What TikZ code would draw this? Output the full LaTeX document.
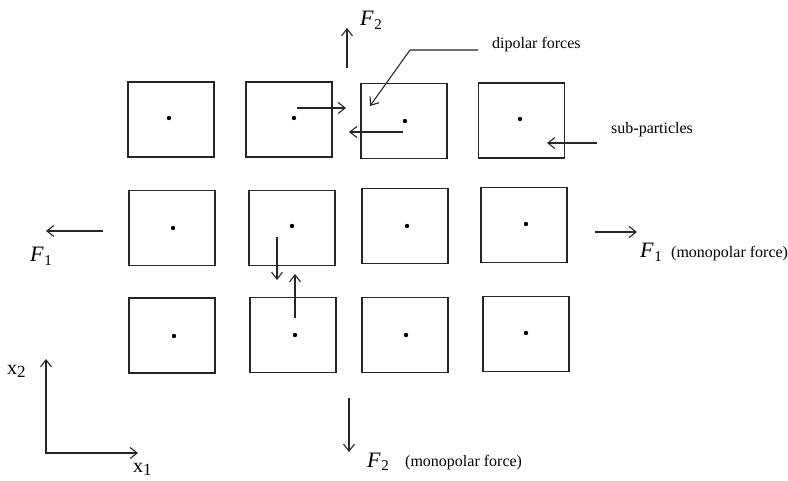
\documentclass[tikz,border=0pt]{standalone}
\usepackage{fontspec}
\setmainfont{Liberation Serif}
\usetikzlibrary{arrows.meta}
\newcommand{\Fsym}[1]{\textit{F}\kern0.5pt\raisebox{-0.3ex}{\fontsize{15}{15}\selectfont #1}}
\newcommand{\Xsym}[1]{x\raisebox{-0.4ex}{\fontsize{17}{17}\selectfont #1}}
\begin{document}
\begin{tikzpicture}[x=1pt,y=-1pt,
  ink/.style={draw=black!85},
  cell/.style={ink, line width=1.3pt, minimum width=86pt, minimum height=75pt, inner sep=0pt},
  dotmark/.style={circle, fill=black, inner sep=0pt, minimum size=4.4pt},
  force/.style={ink, line width=1.1pt, -{Straight Barb[length=7pt,width=11pt,line width=1.1pt]}},
  mlabel/.style={font=\fontsize{22}{24}\selectfont, inner sep=0pt, anchor=base west},
  tlabel/.style={font=\fontsize{16}{18}\selectfont, inner sep=0pt, anchor=base west},
  xlabel/.style={font=\fontsize{20}{22}\selectfont, inner sep=0pt, anchor=base west}]
\useasboundingbox (0,0) rectangle (788,481);
% sub-particle cells
\node[cell] (b11) at (171,119.5) {};
\node[cell] (b12) at (289,119.5) {};
\node[cell] (b13) at (404,121) {};
\node[cell] (b14) at (521.5,120.5) {};
\node[cell] (b21) at (172,228) {};
\node[cell] (b22) at (292,228) {};
\node[cell] (b23) at (405,226) {};
\node[cell] (b24) at (524,225) {};
\node[cell] (b31) at (172,335.5) {};
\node[cell] (b32) at (293,335) {};
\node[cell] (b33) at (405,335) {};
\node[cell] (b34) at (526,334) {};
% centre dots
\node[dotmark] (d11) at (169,118) {};
\node[dotmark] (d12) at (294,118) {};
\node[dotmark] (d13) at (405,121) {};
\node[dotmark] (d14) at (520,119) {};
\node[dotmark] (d21) at (173,228) {};
\node[dotmark] (d22) at (292,226) {};
\node[dotmark] (d23) at (407,226) {};
\node[dotmark] (d24) at (526,224) {};
\node[dotmark] (d31) at (174,336) {};
\node[dotmark] (d32) at (295,335) {};
\node[dotmark] (d33) at (406,335) {};
\node[dotmark] (d34) at (526,333) {};
% arrow end points
\coordinate (f2ta) at (347,68);   \coordinate (f2tb) at (347,28);
\coordinate (dla) at (478,50);    \coordinate (dlb) at (410,50);   \coordinate (dlc) at (370,106);
\coordinate (dra) at (297,108);   \coordinate (drb) at (346,108);
\coordinate (dpa) at (403,132);   \coordinate (dpb) at (349,132);
\coordinate (spa) at (597,143);   \coordinate (spb) at (547,143);
\coordinate (f1la) at (103,231);  \coordinate (f1lb) at (46,231);
\coordinate (dda) at (277,237);   \coordinate (ddb) at (277,280);
\coordinate (dua) at (295,318);   \coordinate (dub) at (295,274);
\coordinate (f1ra) at (595,232);  \coordinate (f1rb) at (637,232);
\coordinate (f2ba) at (349,398);  \coordinate (f2bb) at (349,452);
\coordinate (ax2) at (46,359);    \coordinate (ax0) at (46,453);   \coordinate (ax1) at (138,453);
% forces
\draw[force] (f2ta) -- (f2tb);
\draw[force] (dla) -- (dlb) -- (dlc);
\draw[force] (dra) -- (drb);
\draw[force] (dpa) -- (dpb);
\draw[force] (spa) -- (spb);
\draw[force] (f1la) -- (f1lb);
\draw[force] (dda) -- (ddb);
\draw[force] (dua) -- (dub);
\draw[force] (f1ra) -- (f1rb);
\draw[force] (f2ba) -- (f2bb);
\draw[force, {Straight Barb[length=7pt,width=11pt,line width=1.1pt]}-{Straight Barb[length=7pt,width=11pt,line width=1.1pt]}] (ax2) -- (ax0) -- (ax1);
% labels
\node[mlabel] (lf2t) at (360,26) {\Fsym{2}};
\node[tlabel] (ldip) at (492,49) {dipolar forces};
\node[tlabel] (lsub) at (611,134) {sub-particles};
\node[mlabel] (lf1l) at (30,262) {\Fsym{1}};
\node[mlabel] (lf1r) at (640,258) {\Fsym{1}};
\node[tlabel] (lmr) at (671,258) {(monopolar force)};
\node[mlabel] (lf2b) at (367,467) {\Fsym{2}};
\node[tlabel] (lmb) at (405,466) {(monopolar force)};
\node[xlabel] (lx2) at (7,374) {\Xsym{2}};
\node[xlabel] (lx1) at (133,472) {\Xsym{1}};
\end{tikzpicture}
\end{document}
